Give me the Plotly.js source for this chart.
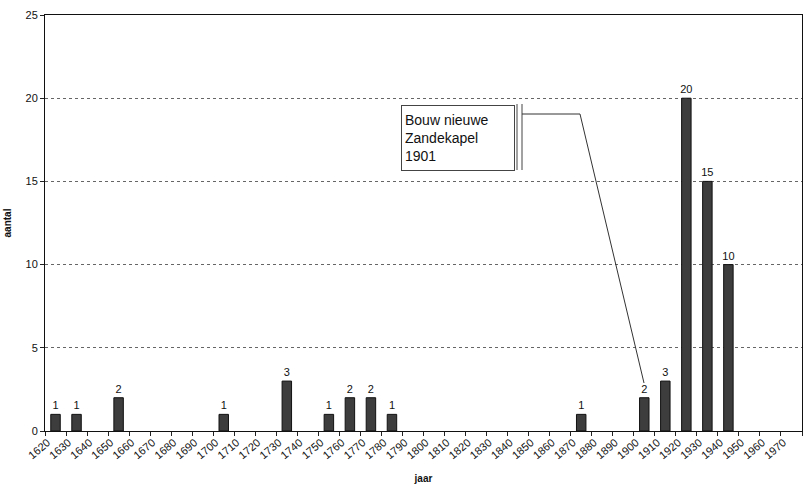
<!DOCTYPE html>
<html>
<head>
<meta charset="utf-8">
<script src="https://cdn.plot.ly/plotly-3.0.1.min.js"></script>
<style>html,body{margin:0;padding:0;background:#fff}#chart{width:803px;height:484px}</style>
</head>
<body>
<div id="chart"></div>
<script>
const years = ["1620","1630","1640","1650","1660","1670","1680","1690","1700","1710","1720","1730","1740","1750","1760","1770","1780","1790","1800","1810","1820","1830","1840","1850","1860","1870","1880","1890","1900","1910","1920","1930","1940","1950","1960","1970"];
const counts = [1,1,0,2,0,0,0,0,1,0,0,3,0,1,2,2,1,0,0,0,0,0,0,0,0,1,0,0,2,3,20,15,10,0,0,0];
const labels = counts.map(v => v > 0 ? String(v) : "");
const noteText = "Bouw nieuwe<br>Zandekapel<br>1901";

const L = 45, R = 802, T = 15, B = 431;
const W = R - L, H = B - T;
const px = v => (v - L) / W;
const py = v => (B - v) / H;

const trace = {
  type: "bar",
  x: years,
  y: counts,
  text: labels,
  textposition: "outside",
  constraintext: "none",
  cliponaxis: false,
  textfont: {family: "Arial, Liberation Sans, sans-serif", size: 11, color: "#111"},
  marker: {color: "#3d3d3d", line: {color: "#111", width: counts.map(v => v > 0 ? 1 : 0)}},
  hoverinfo: "x+y"
};

const layout = {
  width: 803, height: 484,
  margin: {l: L, r: 803 - R, t: T, b: 484 - B},
  paper_bgcolor: "#fff", plot_bgcolor: "#fff",
  bargap: 0.55,
  showlegend: false,
  font: {family: "Arial, Liberation Sans, sans-serif", color: "#111"},
  xaxis: {
    type: "category",
    tickangle: -40,
    tickson: "boundaries",
    ticks: "outside", ticklen: 4, tickcolor: "#222",
    ticklabelshift: -8,
    tickfont: {size: 11, color: "#111"},
    showgrid: false,
    showline: true, linecolor: "#111", linewidth: 1, mirror: true,
    title: {text: "<b>jaar</b>", font: {size: 10}, standoff: 14},
    range: [-0.5, 35.5]
  },
  yaxis: {
    range: [0, 25],
    dtick: 5,
    ticks: "outside", ticklen: 4, tickcolor: "#222",
    tickfont: {size: 11, color: "#111"},
    showgrid: true, gridcolor: "#666", gridwidth: 1, griddash: "dot",
    zeroline: false,
    showline: true, linecolor: "#111", linewidth: 1, mirror: true,
    title: {text: "<b>aantal</b>", font: {size: 10}, standoff: 12}
  },
  annotations: [{
    xref: "paper", yref: "paper",
    x: px(401), y: py(105), xanchor: "left", yanchor: "top",
    text: noteText, showarrow: false, align: "left",
    font: {size: 14, color: "#111"},
    bordercolor: "#444", borderwidth: 1, borderpad: 3,
    bgcolor: "#fff", width: 106, height: 58, valign: "middle"
  }],
  shapes: [
    {type: "line", xref: "paper", yref: "paper", x0: px(517), x1: px(517), y0: py(104), y1: py(170), line: {color: "#444", width: 1}},
    {type: "line", xref: "paper", yref: "paper", x0: px(522), x1: px(522), y0: py(104), y1: py(170), line: {color: "#444", width: 1}},
    {type: "line", xref: "paper", yref: "paper", x0: px(522), x1: px(580), y0: py(114), y1: py(114), line: {color: "#333", width: 1}},
    {type: "line", xref: "paper", yref: "paper", x0: px(580), x1: px(644), y0: py(114), y1: py(383), line: {color: "#333", width: 1}}
  ]
};

Plotly.newPlot("chart", [trace], layout, {displayModeBar: false, staticPlot: true});
</script>
</body>
</html>
